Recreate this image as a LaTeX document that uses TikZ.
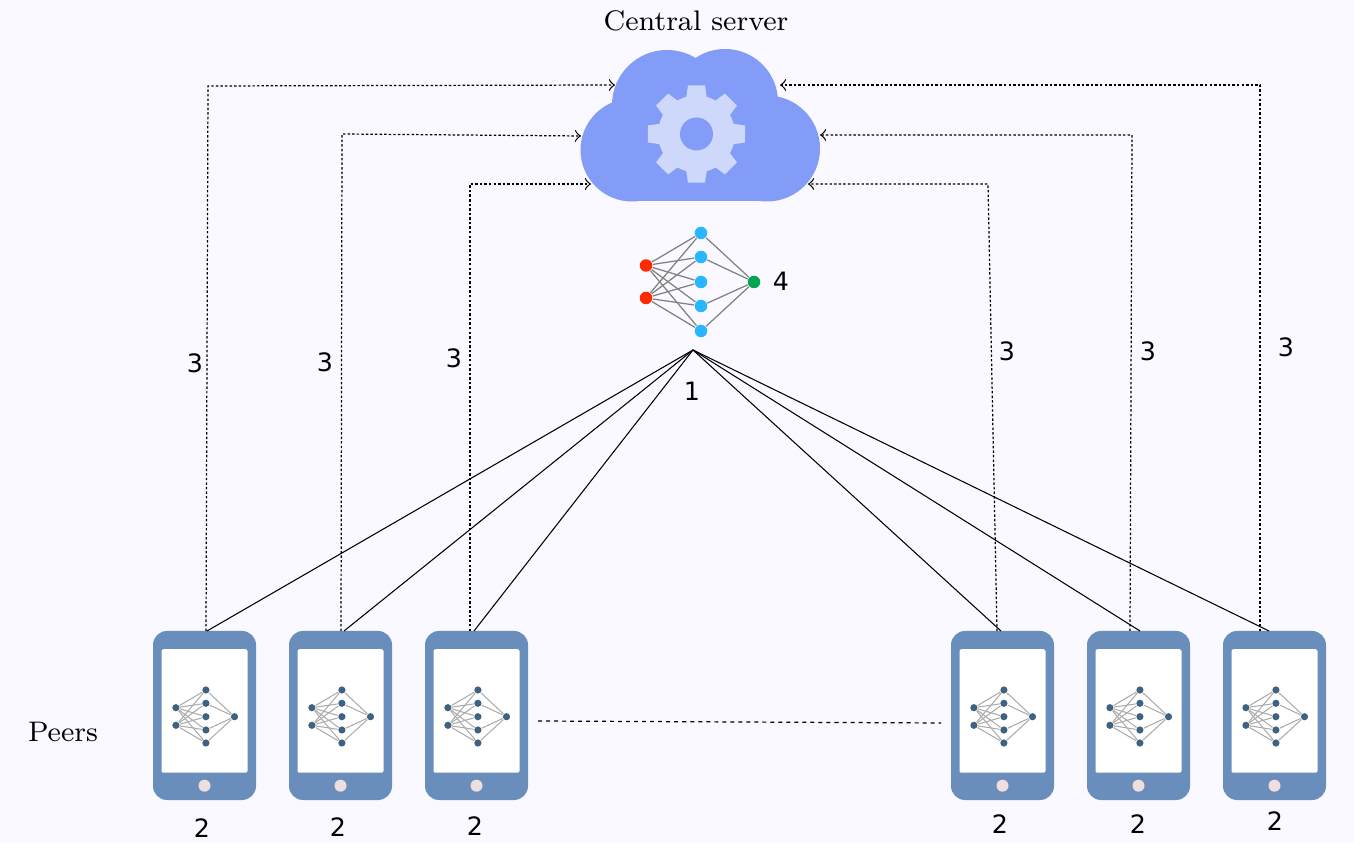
\documentclass[tikz,border=0pt]{standalone}
\usepackage{xcolor}
\usepackage{fontspec}
\newfontfamily\numfont{DejaVu Sans}
\usetikzlibrary{arrows,positioning}
\definecolor{pagebg}{HTML}{F9F9FF}
\definecolor{cloudblue}{HTML}{829CF7}
\definecolor{gearblue}{HTML}{CDD8FB}
\definecolor{phoneblue}{HTML}{6A8EBB}
\definecolor{homebtn}{HTML}{F0DEDE}
\definecolor{peerdot}{HTML}{3F6182}
\definecolor{inred}{HTML}{FF2A00}
\definecolor{hidblue}{HTML}{29B6FF}
\definecolor{outgreen}{HTML}{00A651}

\begin{document}
\begin{tikzpicture}[
    phone/.style={rectangle, fill=phoneblue, rounded corners=0.14cm, minimum width=1.03cm, minimum height=1.69cm, inner sep=0pt},
    screen/.style={rectangle, fill=white, rounded corners=0.02cm, minimum width=0.86cm, minimum height=1.235cm, inner sep=0pt},
    homekey/.style={circle, fill=homebtn, minimum size=0.12cm, inner sep=0pt},
    pdot/.style={circle, fill=peerdot, minimum size=0.072cm, inner sep=0pt},
    mdot/.style={circle, minimum size=0.125cm, inner sep=0pt},
    pedge/.style={gray!65, line width=0.3pt},
    medge/.style={gray, line width=0.35pt},
    uplink/.style={->, dash pattern=on 0.7pt off 0.6pt, line width=0.35pt},
    downlink/.style={line width=0.3pt},
    num/.style={font=\numfont\fontsize{7.2}{8}\selectfont, inner sep=0pt},
    caption/.style={font=\fontsize{8.05}{10}\selectfont, inner sep=0pt}
  ]
    % Page
    \fill[pagebg] (0,0) rectangle (13.54,8.43);
    \useasboundingbox (0,0) rectangle (13.54,8.43);

    % Cloud
    \fill[cloudblue] (6.32,6.93) circle (0.515);
    \fill[cloudblue] (6.67,7.38) circle (0.55);
    \fill[cloudblue] (7.25,7.41) circle (0.53);
    \fill[cloudblue] (7.67,6.945) circle (0.53);
    \fill[cloudblue] (6.32,6.415) rectangle (7.67,7.3);

    % Gear
    \coordinate (gear) at (6.965,7.09);
    \foreach \a in {0,45,...,315}
      \fill[gearblue, shift={(gear)}, rotate=\a] (-0.105,0.35) -- (-0.085,0.487) -- (0.085,0.487) -- (0.105,0.35) -- cycle;
    \fill[gearblue] (gear) circle (0.385);
    \fill[cloudblue] (gear) circle (0.165);

    % Server network
    \node[mdot, fill=inred] (i1) at (6.46,5.775) {};
    \node[mdot, fill=inred] (i2) at (6.46,5.45) {};
    \node[mdot, fill=hidblue] (h1) at (7.01,6.10) {};
    \node[mdot, fill=hidblue] (h2) at (7.01,5.86) {};
    \node[mdot, fill=hidblue] (h3) at (7.01,5.61) {};
    \node[mdot, fill=hidblue] (h4) at (7.01,5.37) {};
    \node[mdot, fill=hidblue] (h5) at (7.01,5.12) {};
    \node[mdot, fill=outgreen] (o1) at (7.54,5.61) {};
    \foreach \h in {h1,h2,h3,h4,h5} {
      \draw[medge] (i1) -- (\h);
      \draw[medge] (i2) -- (\h);
    }
    \foreach \h in {h1,h2,h4,h5}
      \draw[medge] (\h) -- (o1);

    % Peers
    \node[phone] (p1) at (2.045,1.275) {};
    \node[phone] (p2) at (3.405,1.275) {};
    \node[phone] (p3) at (4.765,1.275) {};
    \node[phone] (p4) at (10.025,1.275) {};
    \node[phone] (p5) at (11.385,1.275) {};
    \node[phone] (p6) at (12.745,1.275) {};

    \foreach \p in {p1,p2,p3,p4,p5,p6} {
      \node[screen] (\p-screen) at ([yshift=0.045cm]\p.center) {};
      \node[homekey] (\p-key) at ([yshift=-0.702cm]\p.center) {};
      \begin{scope}[shift={(\p.center)}]
        \node[pdot] (\p-i1) at (-0.286,0.078) {};
        \node[pdot] (\p-i2) at (-0.286,-0.098) {};
        \node[pdot] (\p-h1) at (0.014,0.255) {};
        \node[pdot] (\p-h2) at (0.014,0.122) {};
        \node[pdot] (\p-h3) at (0.014,-0.012) {};
        \node[pdot] (\p-h4) at (0.014,-0.145) {};
        \node[pdot] (\p-h5) at (0.014,-0.275) {};
        \node[pdot] (\p-o1) at (0.30,-0.012) {};
      \end{scope}
      \foreach \h in {h1,h2,h3,h4,h5} {
        \draw[pedge] (\p-i1) -- (\p-\h);
        \draw[pedge] (\p-i2) -- (\p-\h);
      }
      \foreach \h in {h1,h2,h4,h5}
        \draw[pedge] (\p-\h) -- (\p-o1);
    }

    % Model download
    \coordinate (hub) at (6.93,4.93);
    \coordinate (s1) at (2.07,2.12);
    \coordinate (s2) at (3.44,2.12);
    \coordinate (s3) at (4.74,2.12);
    \coordinate (s4) at (10.01,2.12);
    \coordinate (s5) at (11.40,2.12);
    \coordinate (s6) at (12.69,2.12);
    \foreach \s in {s1,s2,s3,s4,s5,s6}
      \draw[downlink] (hub) -- (\s);

    % Model upload
    \coordinate (d1) at (2.06,2.12);
    \coordinate (e1) at (2.08,7.57);
    \coordinate (a1) at (6.15,7.58);
    \coordinate (d2) at (3.41,2.12);
    \coordinate (e2) at (3.42,7.09);
    \coordinate (a2) at (5.81,7.07);
    \coordinate (d3) at (4.70,2.12);
    \coordinate (e3) at (4.70,6.59);
    \coordinate (a3) at (5.91,6.59);
    \coordinate (d4) at (9.97,2.12);
    \coordinate (e4) at (9.88,6.59);
    \coordinate (a4) at (8.08,6.59);
    \coordinate (d5) at (11.30,2.12);
    \coordinate (e5) at (11.32,7.08);
    \coordinate (a5) at (8.20,7.08);
    \coordinate (d6) at (12.60,2.12);
    \coordinate (e6) at (12.60,7.58);
    \coordinate (a6) at (7.80,7.58);
    \foreach \i in {1,...,6}
      \draw[uplink] (d\i) -- (e\i) -- (a\i);

    % Link between peers
    \coordinate (gapl) at (5.38,1.22);
    \coordinate (gapr) at (9.41,1.20);
    \draw[dash pattern=on 1.14pt off 1.14pt, line width=0.35pt] (gapl) -- (gapr);

    % Labels
    \node[caption] (server) at (6.96,8.22) {Central server};
    \node[caption] (peers) at (0.63,1.11) {Peers};
    \node[num] (n1) at (6.92,4.52) {1};
    \node[num] (n4) at (7.81,5.62) {4};
    \node[num] at (1.95,4.80) {3};
    \node[num] at (3.25,4.81) {3};
    \node[num] at (4.54,4.85) {3};
    \node[num] at (10.07,4.92) {3};
    \node[num] at (11.48,4.92) {3};
    \node[num] at (12.86,4.96) {3};
    \node[num] at (2.02,0.15) {2};
    \node[num] at (3.38,0.16) {2};
    \node[num] at (4.75,0.17) {2};
    \node[num] at (10.00,0.19) {2};
    \node[num] at (11.38,0.19) {2};
    \node[num] at (12.75,0.22) {2};
\end{tikzpicture}
\end{document}
